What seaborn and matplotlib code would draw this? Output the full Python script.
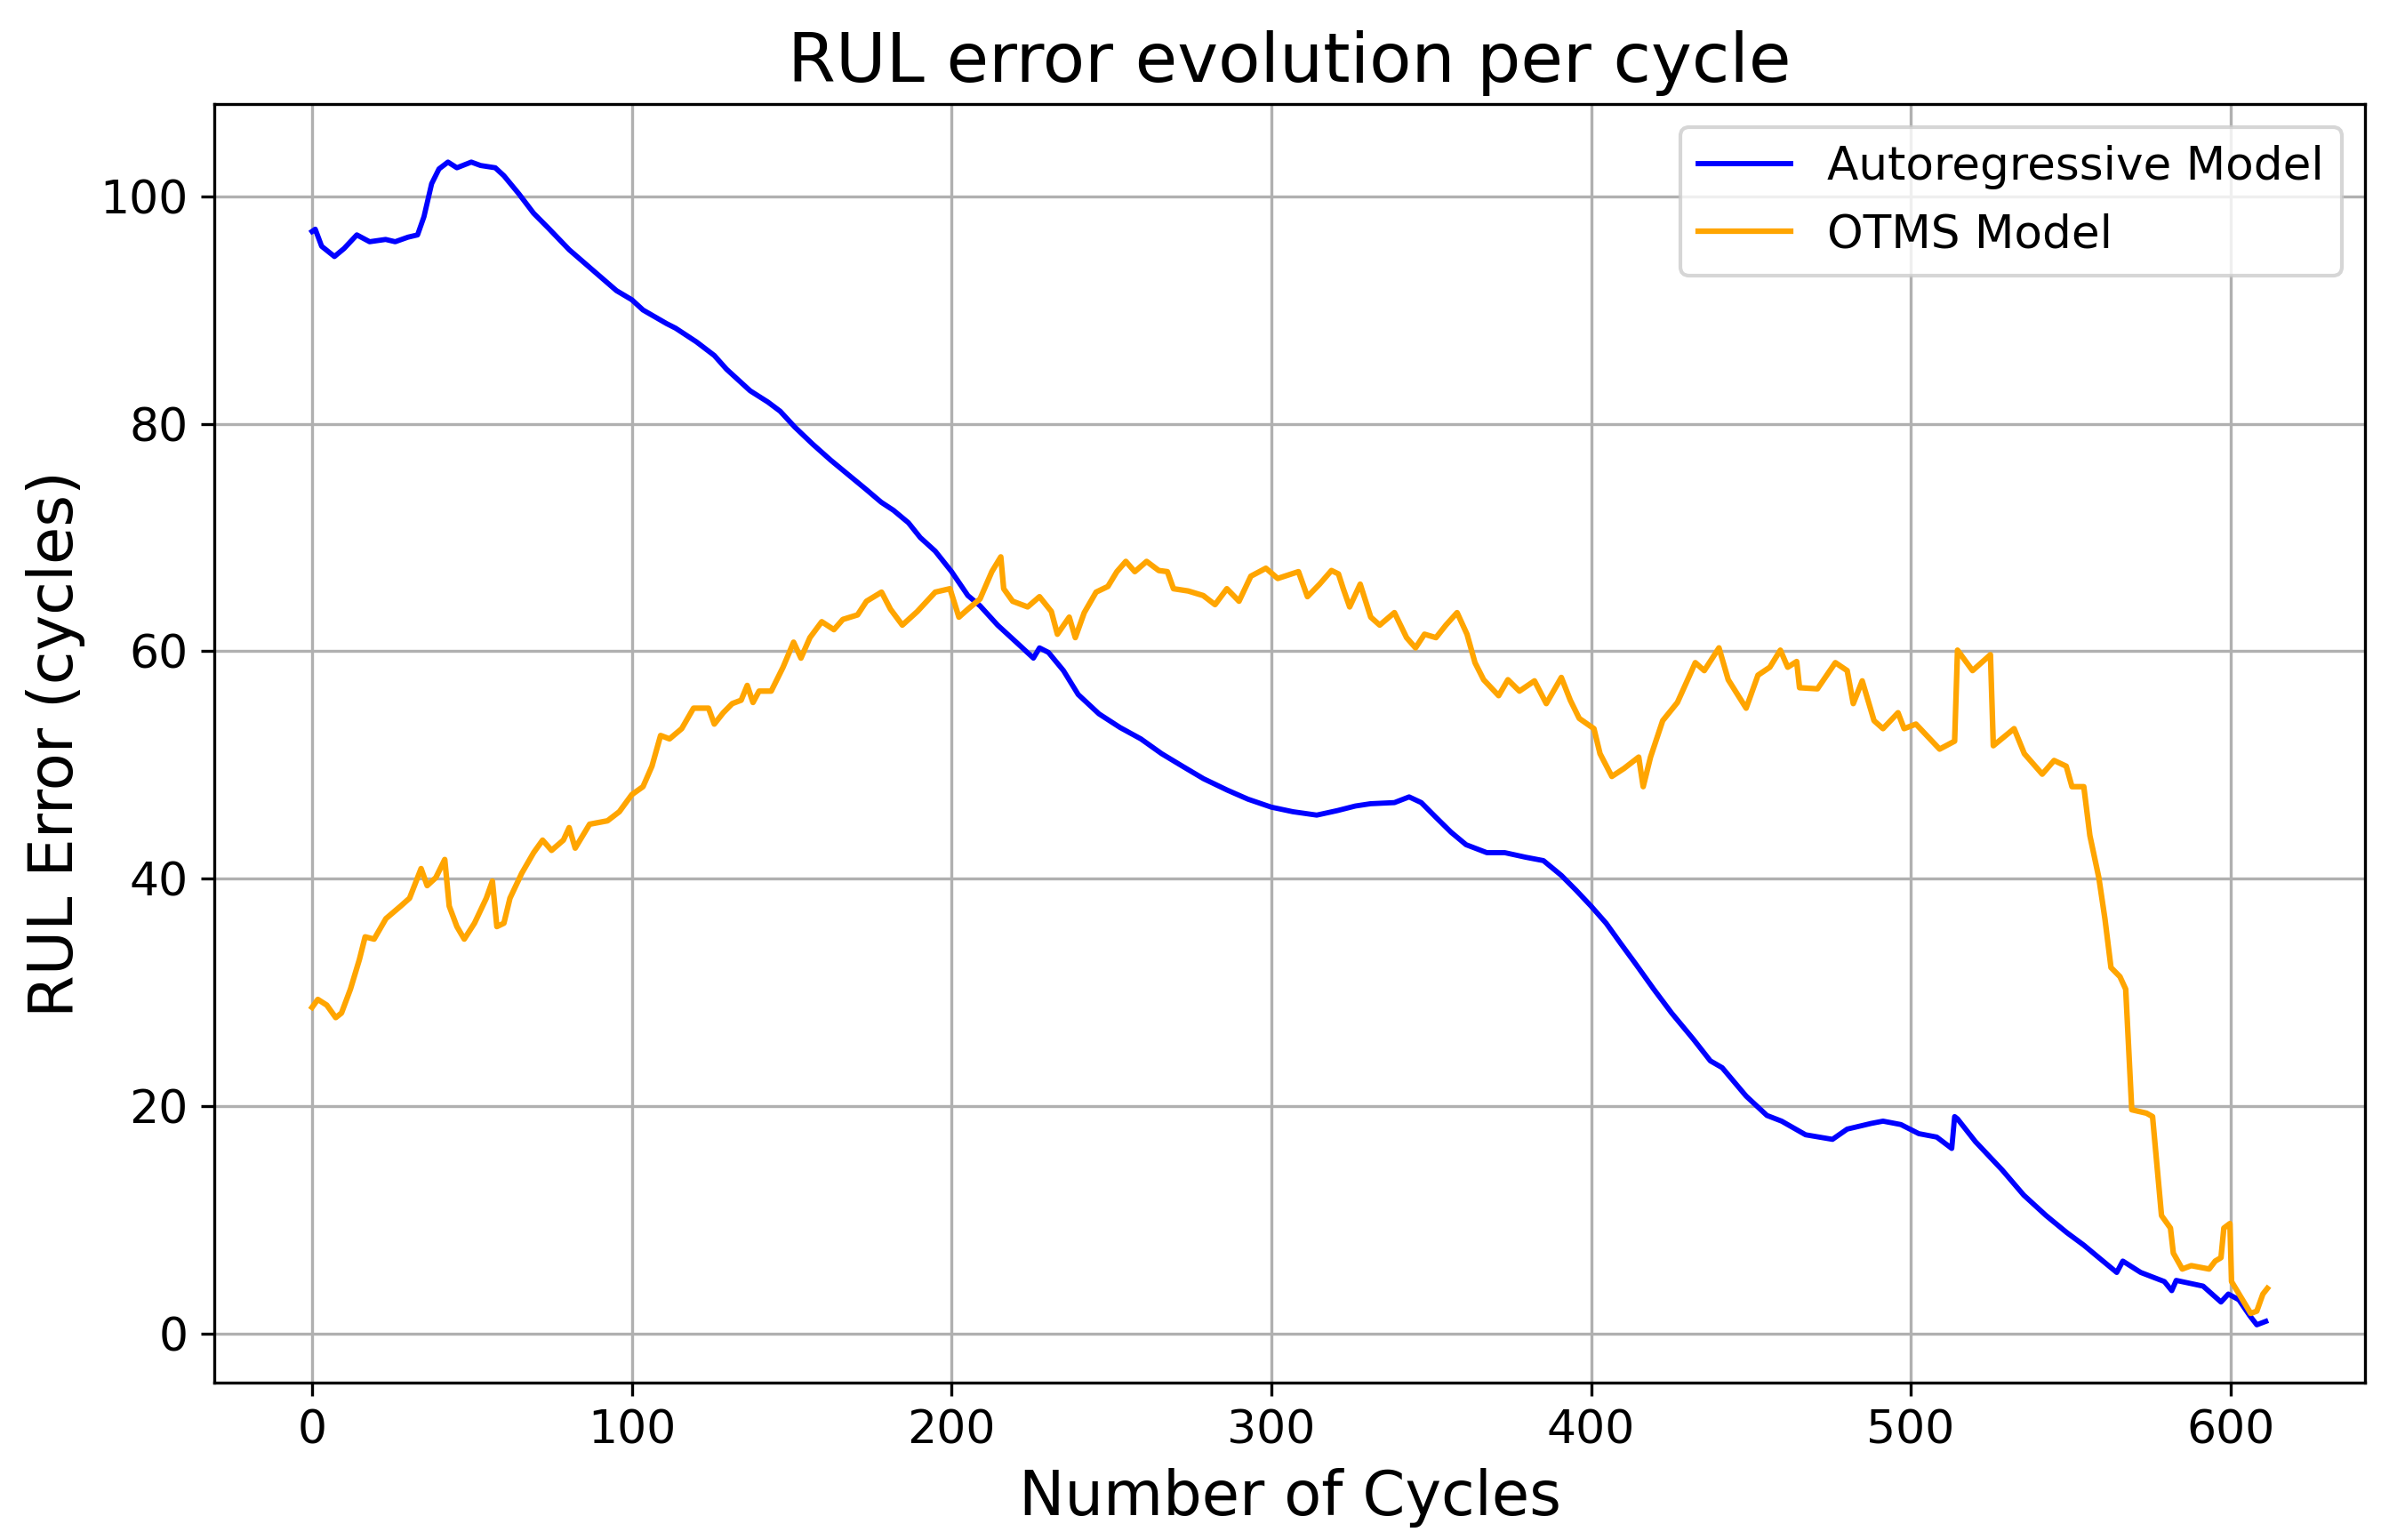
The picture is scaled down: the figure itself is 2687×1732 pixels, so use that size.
import matplotlib
matplotlib.use("Agg")
import matplotlib.pyplot as plt
import pandas as pd
import seaborn as sns

# Autoregressive model RUL error
ar_cycles = [0, 1, 3, 7, 10, 14, 18, 23, 26, 30, 33, 35, 37.4, 39.7, 42.5, 45.3, 49.8, 52.7, 57.3, 60,
             64.7, 69.3, 73.9, 80.4, 87.8, 95.2, 100, 103.5, 110.9, 113.7, 120.2, 125.8, 129.6, 137, 142.6,
             146.4, 151, 156.6, 162.2, 167.8, 173.4, 178, 181.8, 186.5, 190.2, 194.9, 200, 205.1, 208.9,
             214.4, 221, 225.6, 227.5, 230.3, 235, 239.6, 246.1, 252.7, 259.2, 265.7, 272.2, 278.8, 286.2,
             292.7, 300, 306.7, 314.2, 320.7, 326.3, 331, 338.5, 343.1, 346.9, 351.5, 356.2, 360.9, 367.4,
             373, 379.5, 385.1, 390.7, 395.3, 400, 404.7, 409.3, 414, 419.6, 425.2, 432, 437.3, 441, 448.5,
             455, 459.6, 467.1, 475.5, 480.1, 487.6, 491.3, 496.9, 502.5, 508.1, 512.8, 513.7, 514.6, 520.2,
             528.6, 535.3, 542.3, 548.8, 554.1, 558.8, 564.4, 566.3, 571.9, 579.3, 581.6, 583, 591.4, 597,
             599.3, 602.6, 606, 608.2, 611]
ar_error = [96.9, 97.1, 95.6, 94.7, 95.4, 96.6, 96.0, 96.2, 96.0, 96.4, 96.6, 98.2, 101.1, 102.4, 103.0, 102.5,
            103.0, 102.7, 102.5, 101.8, 100.2, 98.5, 97.2, 95.3, 93.5, 91.7, 90.9, 90.0, 88.8, 88.4, 87.2,
            86.0, 84.8, 82.9, 81.9, 81.1, 79.7, 78.2, 76.8, 75.5, 74.2, 73.1, 72.4, 71.3, 70.0, 68.8, 67.0,
            64.9, 64.0, 62.3, 60.6, 59.4, 60.3, 59.9, 58.3, 56.2, 54.5, 53.3, 52.3, 51.0, 49.9, 48.8, 47.8,
            47.0, 46.3, 45.9, 45.6, 46.0, 46.4, 46.6, 46.7, 47.2, 46.7, 45.4, 44.1, 43.0, 42.3, 42.3, 41.9,
            41.6, 40.3, 39.0, 37.6, 36.1, 34.3, 32.5, 30.3, 28.2, 25.9, 24.0, 23.4, 20.9, 19.2, 18.7, 17.5,
            17.1, 18.0, 18.5, 18.7, 18.4, 17.6, 17.3, 16.3, 19.1, 18.9, 16.9, 14.4, 12.2, 10.4, 8.9, 7.8,
            6.7, 5.4, 6.4, 5.4, 4.6, 3.8, 4.7, 4.2, 2.8, 3.5, 3.0, 1.6, 0.8, 1.1]

# OTMS model RUL error
otms_cycles = [0, 1.8, 4.6, 7.4, 9.2, 12, 14.8, 16.6, 19.4, 23.1, 27.7, 30.5, 34.1, 36, 38.7, 41.5, 42.9, 45.3,
               47.6, 50.8, 54.5, 56.4, 57.8, 60, 61.9, 65.6, 69.3, 72.1, 74.9, 78.6, 80.4, 82.3, 86.8, 92.4,
               96.1, 100, 103.5, 106.3, 109, 111.8, 115.6, 119.3, 124, 125.8, 128.6, 131.4, 134.2, 136.1,
               137.9, 139.8, 143.6, 147.3, 150.6, 152.9, 155.7, 159.4, 163.2, 166, 170.6, 173.4, 178.1,
               180.9, 184.6, 189.3, 194.9, 199.5, 202.3, 205.1, 208.9, 212.6, 215.4, 216.3, 219.1, 223.8,
               227.5, 231.2, 233.1, 236.8, 238.7, 241.5, 245.2, 248.9, 251.7, 254.5, 257.3, 261, 264.8,
               267.5, 269.4, 274, 278.7, 282.4, 286.1, 289.9, 293.6, 298.3, 302, 308.5, 311.3, 315.1, 318.8,
               321, 322.5, 324.5, 327.8, 331.1, 333.9, 338.5, 342.3, 345.1, 347.9, 351.5, 354.6, 358.1,
               361.2, 363.7, 366.4, 371.1, 374, 377.6, 382.3, 386, 390.7, 393.5, 396.3, 400.9, 402.8, 406.5,
               410.3, 414.9, 416.3, 418.6, 422.4, 427, 432.6, 435.4, 440, 442.9, 448.5, 452.2, 455.9, 459.2,
               461.5, 464.3, 465.2, 470.8, 476.4, 480.1, 482, 484.8, 488.5, 491.3, 496, 497.9, 501.6, 505.3,
               509, 513.7, 514.6, 519.3, 524.9, 525.8, 532.3, 535.5, 541.1, 544.8, 548.6, 550.4, 554.1, 556,
               558.8, 560.7, 562.6, 565.4, 567.2, 569.1, 573.7, 575.6, 578.4, 581.2, 582.1, 584.9, 587.7,
               593.3, 595.2, 597, 597.9, 599.8, 600.3, 603.5, 606.3, 608.2, 610.1, 611.5]
otms_error = [28.7, 29.4, 28.9, 27.8, 28.2, 30.3, 32.9, 34.9, 34.7, 36.5, 37.6, 38.3, 40.9, 39.4, 40.1, 41.7,
              37.6, 35.8, 34.7, 36.1, 38.3, 39.8, 35.8, 36.1, 38.3, 40.5, 42.3, 43.4, 42.5, 43.4, 44.5, 42.7,
              44.8, 45.1, 45.9, 47.4, 48.1, 49.9, 52.6, 52.3, 53.2, 55.0, 55.0, 53.6, 54.6, 55.4, 55.7, 57.0,
              55.5, 56.5, 56.5, 58.6, 60.8, 59.4, 61.2, 62.6, 61.9, 62.8, 63.2, 64.4, 65.2, 63.7, 62.3, 63.5,
              65.2, 65.5, 63.0, 63.7, 64.6, 67.0, 68.3, 65.5, 64.4, 63.9, 64.8, 63.5, 61.5, 63.0, 61.2, 63.4,
              65.2, 65.7, 67.0, 67.9, 67.0, 67.9, 67.1, 67.0, 65.5, 65.3, 64.9, 64.1, 65.5, 64.4, 66.6, 67.3,
              66.4, 67.0, 64.8, 65.9, 67.1, 66.8, 65.5, 63.9, 65.9, 63.0, 62.3, 63.4, 61.2, 60.3, 61.5, 61.2,
              62.3, 63.4, 61.5, 59.0, 57.5, 56.1, 57.5, 56.5, 57.4, 55.4, 57.7, 55.7, 54.1, 53.2, 51.0, 49.0,
              49.7, 50.7, 48.1, 50.7, 53.9, 55.5, 59.0, 58.3, 60.3, 57.5, 55.0, 57.9, 58.6, 60.1, 58.6, 59.1,
              56.8, 56.7, 59.0, 58.3, 55.4, 57.4, 53.9, 53.2, 54.6, 53.2, 53.6, 52.5, 51.4, 52.1, 60.1, 58.3,
              59.7, 51.7, 53.2, 51.0, 49.2, 50.4, 49.9, 48.1, 48.1, 43.8, 40.1, 36.5, 32.2, 31.4, 30.3, 19.7,
              19.4, 19.1, 10.4, 9.3, 7.1, 5.7, 6.0, 5.7, 6.4, 6.7, 9.3, 9.7, 4.6, 3.1, 1.8, 2.0, 3.5, 4.0]

df_ar = pd.DataFrame({"cycle": ar_cycles, "error": ar_error})
df_otms = pd.DataFrame({"cycle": otms_cycles, "error": otms_error})

fig, ax = plt.subplots(figsize=(2687 / 300, 1732 / 300), dpi=300)
fig.subplots_adjust(left=0.0897, right=0.990, top=0.9325, bottom=0.102)

sns.lineplot(data=df_ar, x="cycle", y="error", color="blue", label="Autoregressive Model",
             estimator=None, sort=False, linewidth=1.4, ax=ax)
sns.lineplot(data=df_otms, x="cycle", y="error", color="orange", label="OTMS Model",
             estimator=None, sort=False, linewidth=1.5, ax=ax)

ax.set_title("RUL error evolution per cycle", fontsize=18.6)
ax.set_xlabel("Number of Cycles", fontsize=16.5)
ax.set_ylabel("RUL Error (cycles)", fontsize=16.5)
ax.set_xticks([0, 100, 200, 300, 400, 500, 600])
ax.set_yticks([0, 20, 40, 60, 80, 100])
ax.tick_params(labelsize=12.5)
ax.grid(True)
ax.legend(loc="upper right", fontsize=12.4)

fig.savefig("out.png", dpi=300)
